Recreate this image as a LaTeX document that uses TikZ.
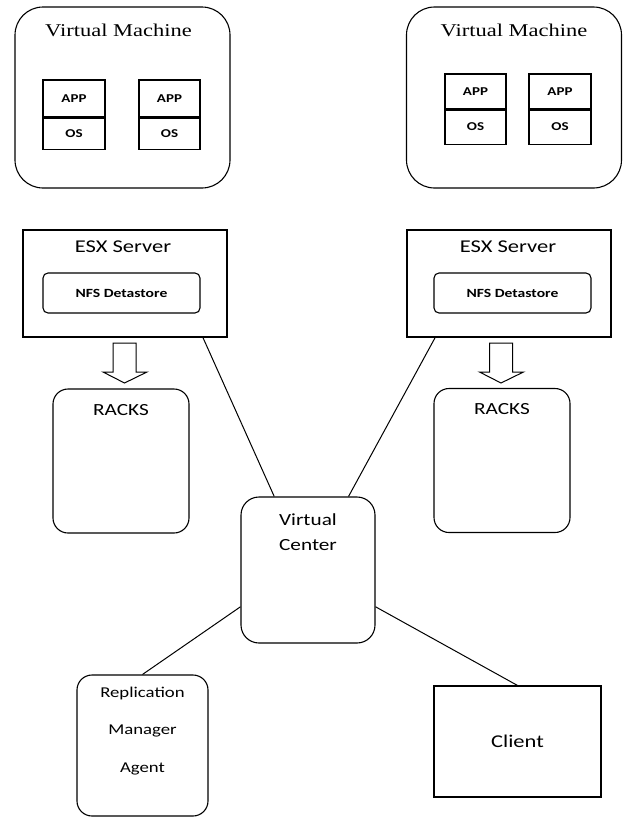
\documentclass[tikz,border=0pt]{standalone}
\usepackage{fontspec}
\newfontfamily\vmfont[FakeStretch=1.25]{Liberation Serif}
\newfontfamily\lblfont[FakeStretch=1.25]{Carlito}
\usetikzlibrary{calc, positioning}

\tikzset{
  downarrow/.pic={
    \draw[line width=1pt] (0,0) -- (-21.5,-11) -- (-11.5,-11) -- (-11.5,-40)
      -- (11.5,-40) -- (11.5,-11) -- (22.5,-11) -- cycle;
  }
}

\begin{document}
\begin{tikzpicture}[x=1pt,y=-1pt,line width=1.1pt,
                    vm/.style={draw,rounded corners=28pt,minimum width=215pt,minimum height=181pt},
                    cell/.style={draw,minimum width=62pt,inner sep=0pt,font=\lblfont\bfseries\fontsize{12}{14}\selectfont},
                    server/.style={draw,minimum width=204pt,minimum height=107pt},
                    store/.style={draw,rounded corners=5pt,minimum width=157pt,minimum height=40pt,inner sep=0pt,
                                  font=\lblfont\bfseries\fontsize{12.5}{14}\selectfont},
                    rack/.style={draw,rounded corners=15pt,minimum width=136pt,minimum height=144pt},
                    title/.style={anchor=base,inner sep=0pt,align=center},
                    link/.style={line width=1pt}]

  \useasboundingbox (0,0) rectangle (622,817);

  % virtual machines
  \node[vm] (vm1) at (122.5,97.5) {};
  \node[vm] (vm2) at (514,97.5) {};
  \node[title,font=\vmfont\fontsize{18}{20}\selectfont] (vm1t) at ([xshift=-4pt,yshift=-30pt]vm1.north) {Virtual Machine};
  \node[title,font=\vmfont\fontsize{18}{20}\selectfont] (vm2t) at ([yshift=-30pt]vm2.north) {Virtual Machine};

  \node[cell,minimum height=37pt] (app1) at (74,98.5) {APP};
  \node[cell,minimum height=31pt,below=0pt of app1] (os1) {OS};
  \node[cell,minimum height=37pt,minimum width=61pt] (app2) at (169.5,98.5) {APP};
  \node[cell,minimum height=31pt,minimum width=61pt,below=0pt of app2] (os2) {OS};
  \node[cell,minimum height=35pt,minimum width=61pt] (app3) at (475.5,91.5) {APP};
  \node[cell,minimum height=34pt,minimum width=61pt,below=0pt of app3] (os3) {OS};
  \node[cell,minimum height=35pt] (app4) at (560,91.5) {APP};
  \node[cell,minimum height=34pt,below=0pt of app4] (os4) {OS};

  % servers
  \node[server] (esx1) at (125,283.5) {};
  \node[server] (esx2) at (509,283.5) {};
  \node[title,font=\lblfont\fontsize{18}{20}\selectfont] (esx1t) at ([xshift=-2pt,yshift=-23pt]esx1.north) {ESX Server};
  \node[title,font=\lblfont\fontsize{18}{20}\selectfont] (esx2t) at ([xshift=-1pt,yshift=-23pt]esx2.north) {ESX Server};
  \node[store] (nfs1) at (121.5,293) {NFS Detastore};
  \node[store] (nfs2) at (512.5,293) {NFS Detastore};

  \pic at (124.5,383) {downarrow};
  \pic at (501,383) {downarrow};

  % racks
  \node[rack] (rk1) at (121,461) {};
  \node[rack] (rk2) at (502,460.5) {};
  \node[title,font=\lblfont\fontsize{17}{20}\selectfont] (rk1t) at ([yshift=-27pt]rk1.north) {RACKS};
  \node[title,font=\lblfont\fontsize{17}{20}\selectfont] (rk2t) at ([yshift=-27pt]rk2.north) {RACKS};

  % center, agent, client
  \node[draw,rounded corners=18pt,minimum width=134pt,minimum height=146pt] (vc) at (308,570) {};
  \node[title,font=\lblfont\fontsize{17}{25}\selectfont] (vct) at ([yshift=-54pt]vc.north) {Virtual\\Center};

  \node[draw,rounded corners=15pt,minimum width=131pt,minimum height=141pt] (rep) at (142.5,745.5) {};
  \node[title,font=\lblfont\fontsize{15}{37.5}\selectfont] (rept) at ([yshift=-98pt]rep.north) {Replication\\Manager\\Agent};

  \node[draw,minimum width=167pt,minimum height=111pt,font=\lblfont\fontsize{18}{20}\selectfont] (client) at (517.5,741.5) {Client};

  \draw[link] ($(esx1.south west)!0.88!(esx1.south east)$) -- ($(vc.north west)!0.25!(vc.north east)$);
  \draw[link] ($(esx2.south west)!0.14!(esx2.south east)$) -- ($(vc.north west)!0.8!(vc.north east)$);
  \draw[link] ($(vc.north west)!0.75!(vc.south west)$) -- (rep.north);
  \draw[link] ($(vc.north east)!0.75!(vc.south east)$) -- (client.north);

\end{tikzpicture}
\end{document}
